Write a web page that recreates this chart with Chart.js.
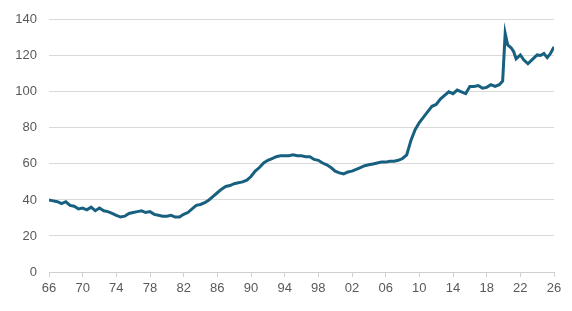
<!DOCTYPE html>
<html lang="en">
<head>
    <meta charset="UTF-8">
    <title>Line chart 1966-2026</title>
    <script src="https://cdn.jsdelivr.net/npm/chart.js"></script>
    <style>
        * { margin: 0; padding: 0; box-sizing: border-box; }
        body { background: #ffffff; width: 572px; height: 311px; overflow: hidden; }
        .chart-box { position: relative; width: 572px; height: 311px; }
    </style>
</head>
<body>
    <div class="chart-box">
        <canvas id="series-chart"></canvas>
    </div>

    <script>
        // values, roughly every half year
        const years = [
            1966, 1966.5, 1967, 1967.5, 1968, 1968.5, 1969, 1969.5, 1970, 1970.5,
            1971, 1971.5, 1972, 1972.5, 1973, 1973.5, 1974, 1974.5, 1975, 1975.5,
            1976, 1976.5, 1977, 1977.5, 1978, 1978.5, 1979, 1979.5, 1980, 1980.5,
            1981, 1981.5, 1982, 1982.5, 1983, 1983.5, 1984, 1984.5, 1985, 1985.5,
            1986, 1986.5, 1987, 1987.5, 1988, 1988.5, 1989, 1989.5, 1990, 1990.5,
            1991, 1991.5, 1992, 1992.5, 1993, 1993.5, 1994, 1994.5, 1995, 1995.5,
            1996, 1996.5, 1997, 1997.5, 1998, 1998.5, 1999, 1999.5, 2000, 2000.5,
            2001, 2001.5, 2002, 2002.5, 2003, 2003.5, 2004, 2004.5, 2005, 2005.5,
            2006, 2006.5, 2007, 2007.5, 2008, 2008.5, 2009, 2009.5, 2010, 2010.5,
            2011, 2011.5, 2012, 2012.5, 2013, 2013.5, 2014, 2014.5, 2015, 2015.5,
            2016, 2016.5, 2017, 2017.5, 2018, 2018.5, 2019, 2019.5, 2019.9, 2020.2,
            2020.5, 2020.9, 2021.2, 2021.5, 2022, 2022.4, 2022.9, 2023.5, 2024, 2024.4,
            2024.8, 2025.2, 2025.6, 2026
        ];
        const values = [
            40, 39.5, 39, 38, 39, 37, 36.5, 35, 35.5, 34.5,
            36, 34, 35.5, 34, 33.5, 32.5, 31.5, 30.5, 31, 32.5,
            33, 33.5, 34, 33, 33.5, 32, 31.5, 31, 31, 31.5,
            30.5, 30.5, 32, 33, 35, 37, 37.5, 38.5, 40, 42,
            44, 46, 47.5, 48, 49, 49.5, 50, 51, 53, 56,
            58, 60.5, 62, 63, 64, 64.5, 64.5, 64.5, 65, 64.5,
            64.5, 64, 64, 62.5, 62, 60.5, 59.5, 58, 56, 55,
            54.5, 55.5, 56, 57, 58, 59, 59.5, 60, 60.5, 61,
            61, 61.5, 61.5, 62, 63, 65, 73, 79, 83, 86,
            89, 92, 93, 96, 98, 100, 99, 101, 100, 99,
            103, 103, 103.5, 102, 102.5, 104, 103, 104, 106, 132.5,
            126, 124.5, 122.4, 118.3, 120.5, 117.8, 115.6, 118.3, 120.5, 120.2,
            121.3, 119, 121.4, 125
        ];
        const tickYears = [1966, 1970, 1974, 1978, 1982, 1986, 1990, 1994, 1998, 2002, 2006, 2010, 2014, 2018, 2022, 2026];

        const points = years.map((y, i) => ({ x: y, y: values[i] }));

        const ctx = document.getElementById('series-chart').getContext('2d');
        new Chart(ctx, {
            type: 'line',
            data: {
                datasets: [{
                    data: points,
                    borderColor: '#18607f',
                    borderWidth: 3,
                    pointRadius: 0,
                    tension: 0,
                    fill: false
                }]
            },
            options: {
                responsive: true,
                maintainAspectRatio: false,
                animation: false,
                layout: { padding: { top: 10, right: 18, bottom: 9, left: 0 } },
                plugins: {
                    legend: { display: false },
                    tooltip: { enabled: false }
                },
                scales: {
                    x: {
                        type: 'linear',
                        min: 1966,
                        max: 2026,
                        afterBuildTicks: (scale) => {
                            scale.ticks = tickYears.map(v => ({ value: v }));
                        },
                        afterFit: (scale) => { scale.height = 30; },
                        grid: {
                            drawOnChartArea: false,
                            drawTicks: true,
                            tickLength: 5,
                            color: '#d0d0d0'
                        },
                        border: { color: '#d0d0d0', width: 1 },
                        ticks: {
                            color: '#595959',
                            font: { family: 'Liberation Sans', size: 13 },
                            padding: 4,
                            maxRotation: 0,
                            callback: (v) => String(v % 100).padStart(2, '0')
                        }
                    },
                    y: {
                        min: 0,
                        max: 140,
                        afterFit: (scale) => { scale.width = 49; },
                        grid: { color: '#d9d9d9', drawTicks: false },
                        border: { display: false },
                        ticks: {
                            stepSize: 20,
                            color: '#595959',
                            font: { family: 'Liberation Sans', size: 13 },
                            padding: 12
                        }
                    }
                }
            }
        });
    </script>
</body>
</html>
